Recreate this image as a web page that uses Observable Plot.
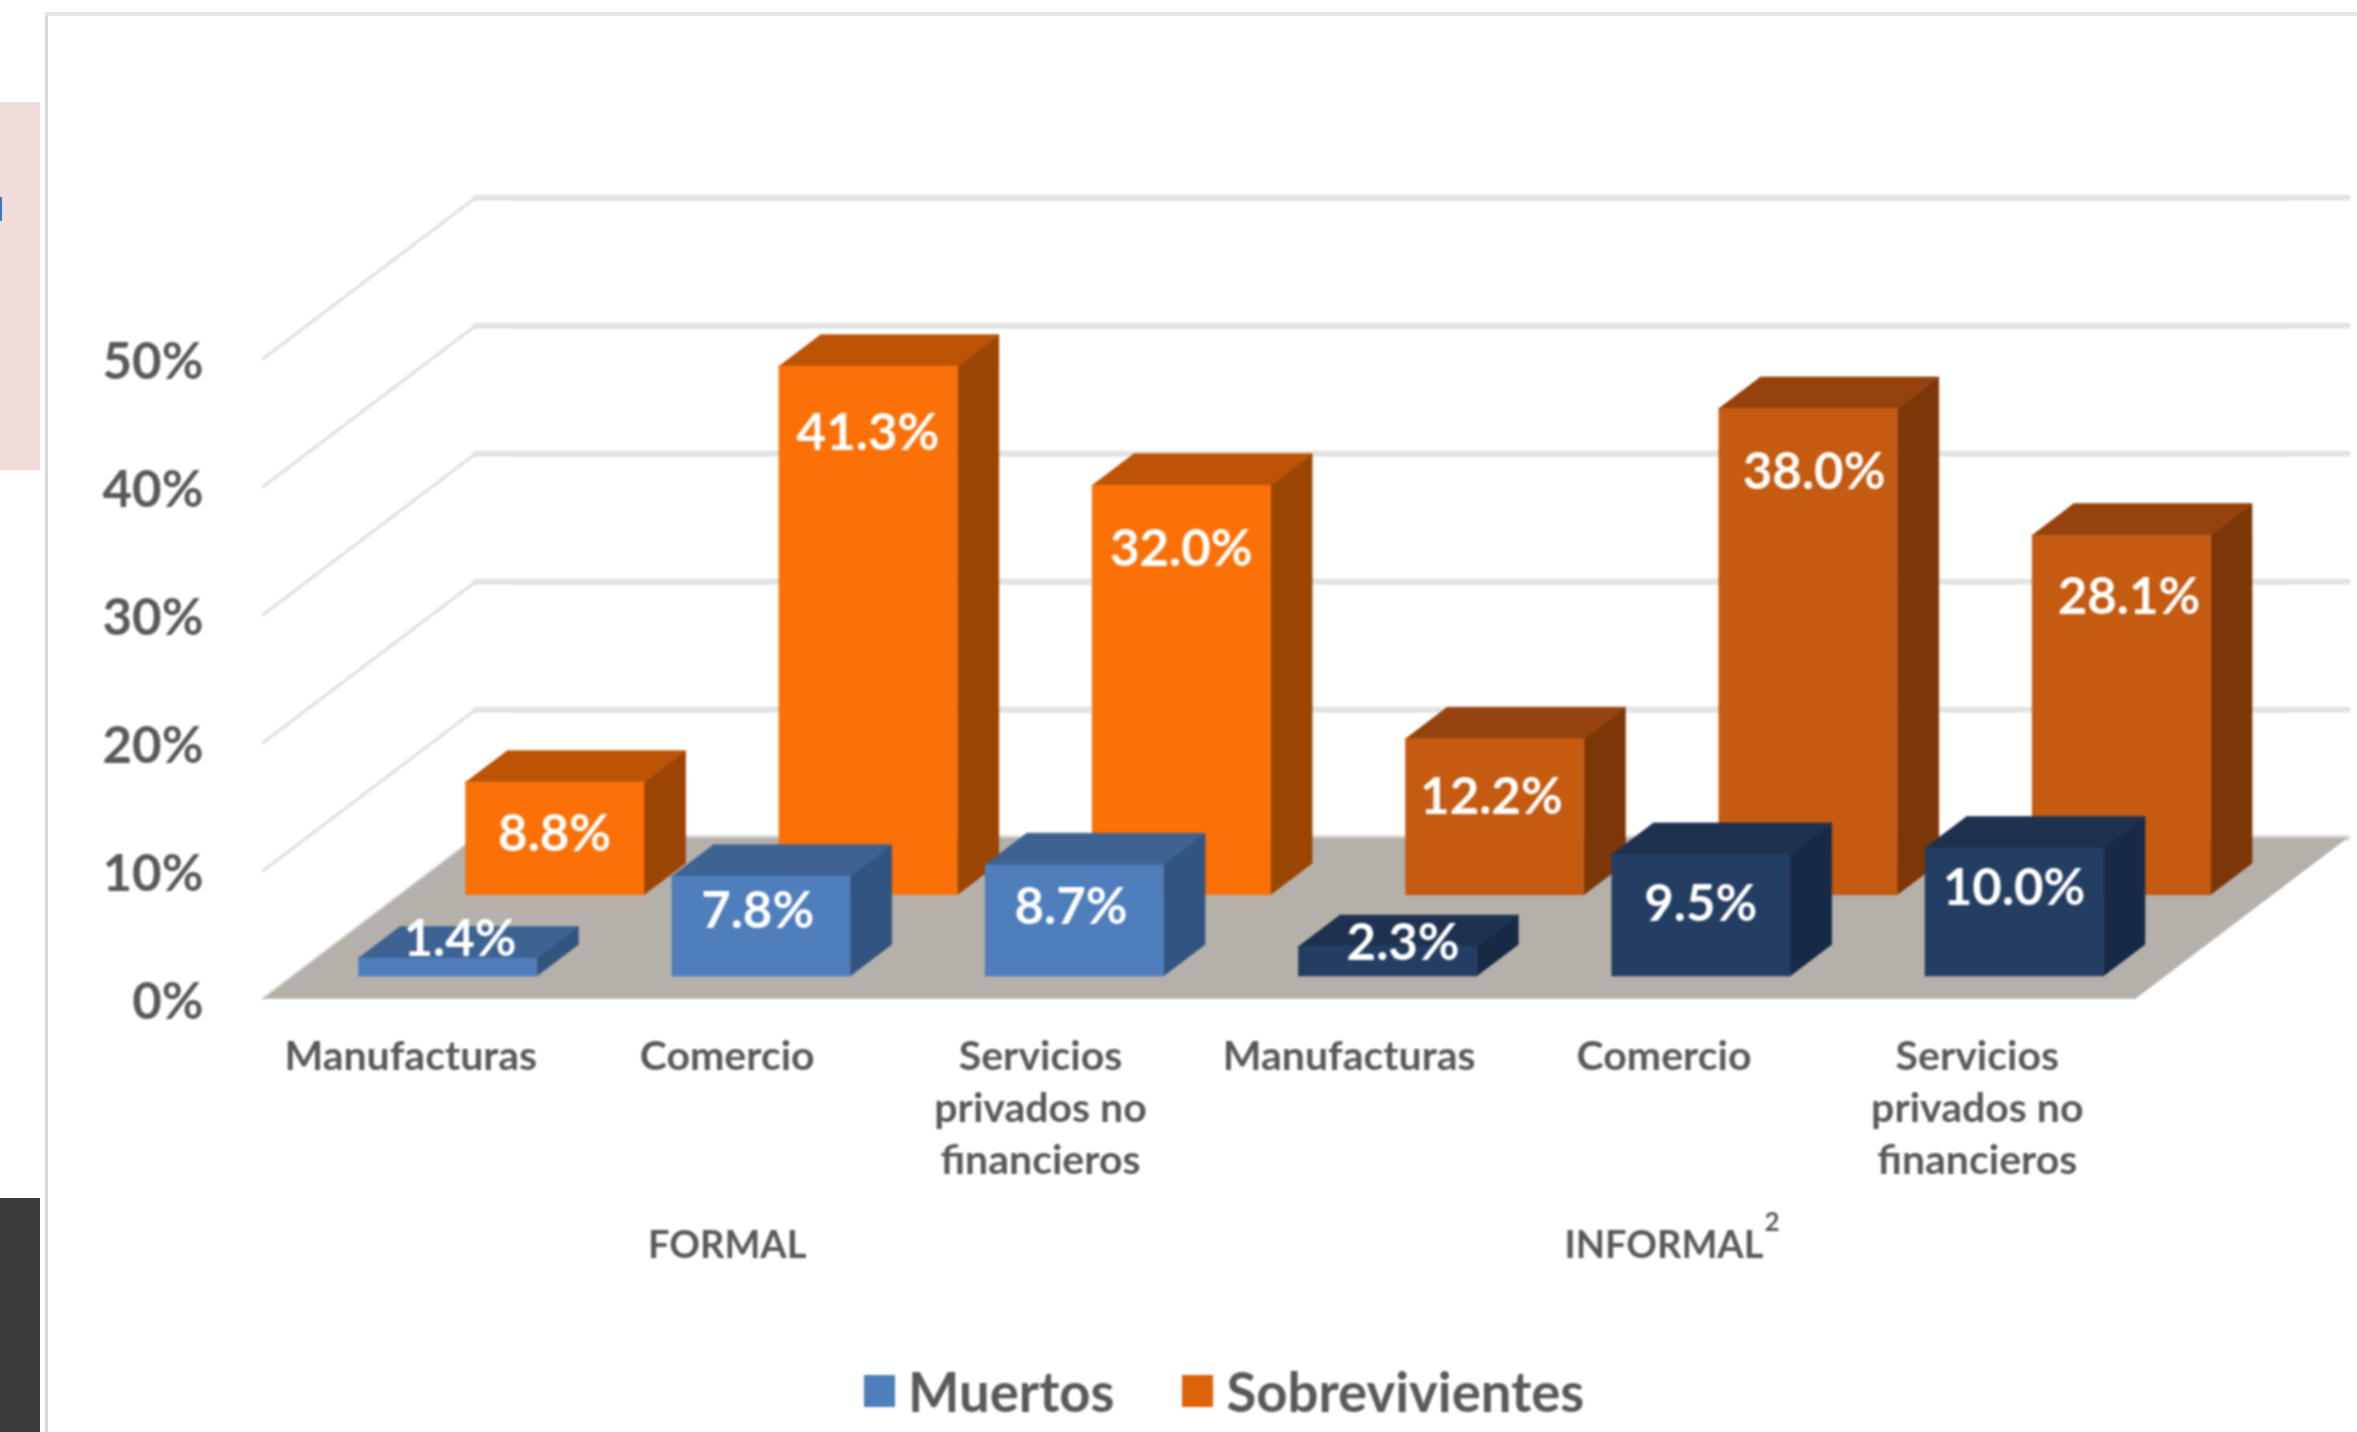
<!DOCTYPE html>
<html><head><meta charset="utf-8">
<script src="https://cdn.jsdelivr.net/npm/d3@7"></script>
<script src="https://cdn.jsdelivr.net/npm/@observablehq/plot@0.6"></script>
<style>
html,body{margin:0;padding:0;background:#fff;width:2357px;height:1432px;overflow:hidden;font-family:Lato,sans-serif}
#page{position:relative;width:2357px;height:1432px}
.deco{position:absolute}
#chart{position:absolute;left:0;top:0;filter:blur(.8px)}
#chart svg{display:block;background:transparent}
#legend{position:absolute;left:0;top:1350px;width:2357px;height:82px;display:flex;align-items:center;filter:blur(.8px);
 font-size:54.5px;font-weight:700;color:#595959;box-sizing:border-box;padding-left:864px}
#legend i{display:inline-block;width:31px;height:32px;margin-right:13px}
#legend span{margin-right:68px}
</style></head><body>
<div id="page">
<div class="deco" style="left:0;top:102px;width:40px;height:368px;background:#f1dcdc"></div>
<div class="deco" style="left:0;top:197px;width:2px;height:24px;background:#3a78c0"></div>
<div class="deco" style="left:0;top:1198px;width:40px;height:234px;background:#3b3b3b"></div>
<div class="deco" style="left:45px;top:12px;width:3px;height:1420px;background:#d9d9d9"></div>
<div class="deco" style="left:45px;top:12px;width:2312px;height:4px;background:#e6e6e6"></div>
<div id="chart"></div>
<div id="legend"><i style="background:#4e7ebc"></i><span id="l1"></span><i style="background:#dd6208"></i><span id="l2"></span></div>
</div>
<script>
// ---- data ----
const categories = ["Manufacturas", "Comercio", "Servicios\nprivados no\nfinancieros",
                    "Manufacturas", "Comercio", "Servicios\nprivados no\nfinancieros"];
const groups = ["FORMAL", "INFORMAL"];
const seriesNames = ["Muertos", "Sobrevivientes"];
const muertos = [1.4, 7.8, 8.7, 2.3, 9.5, 10.0];
const sobrevivientes = [8.8, 41.3, 32.0, 12.2, 38.0, 28.1];
const yTicks = [0, 10, 20, 30, 40, 50];

// ---- oblique projection of the 3-D chart, in data units ----
const skewX = 0.677, skewY = 12.56;         // shift of the back of the floor
const barW = 0.57, barD = 0.196;
const seriesDepth = [0.14, 0.645];
const floorL = -0.208, floorR = 5.767;
const px = (c, d) => c + skewX * d;
const py = (v, d) => v + skewY * d;
const palette = {
  formal:   [{f:"#4e7ebc", t:"#3d6393", s:"#325480"}, {f:"#fb7007", t:"#bd5304", s:"#9b4502"}],
  informal: [{f:"#243e63", t:"#1e3250", s:"#162a46"}, {f:"#c55a11", t:"#96420c", s:"#7c3708"}]
};

const faces = [];
function poly(id, color, pts) { for (const [c, v, d] of pts) faces.push({id, color, x: px(c, d), y: py(v, d)}); }

poly("floor", "#b5b1aa", [[floorL,0,0],[floorR,0,0],[floorR,0,1],[floorL,0,1]]);
[1, 0].forEach(s => {
  const vals = s ? sobrevivientes : muertos, d0 = seriesDepth[s], d1 = d0 + barD;
  vals.forEach((v, i) => {
    const col = palette[i < 3 ? "formal" : "informal"][s], a = i, b = i + barW, id = `${s}-${i}`;
    poly(id+"s", col.s, [[b,0,d0],[b,0,d1],[b,v,d1],[b,v,d0]]);
    poly(id+"t", col.t, [[a,v,d0],[b,v,d0],[b,v,d1],[a,v,d1]]);
    poly(id+"f", col.f, [[a,0,d0],[b,0,d0],[b,v,d0],[a,v,d0]]);
  });
});

// wall gridlines
const sideLines = yTicks.flatMap(v => [{v, x: px(floorL,0), y: py(v,0)}, {v, x: px(floorL,1), y: py(v,1)}]);
const backLines = yTicks.flatMap(v => [{v, x: px(floorL,1), y: py(v,1)}, {v, x: px(floorR,1), y: py(v,1)}]);

// label placement (value units below the bar top / beside the bar centre)
const rearDrop = [4.1, 5.3, 5.0, 4.6, 5.0, 4.9];
const rearShift = [0, 0, 0, -0.01, 0.02, 0.025];
const frontLift = [2.8, 5.0, 5.3, 2.5, 5.6, 6.8];
const frontShift = [0.04, -0.01, -0.01, 0.05, 0, 0];
const catShift = [0, 0.01, 0.01, -0.005, 0, 0];
const fmt = v => v.toFixed(1) + "%";
const valueLabels = [
  ...sobrevivientes.map((v, i) => ({t: fmt(v), x: px(i + barW/2 + rearShift[i], seriesDepth[1]), y: py(v - rearDrop[i], seriesDepth[1])})),
  ...muertos.map((v, i) => ({t: fmt(v), x: px(i + barW/2 + frontShift[i], seriesDepth[0]), y: py(frontLift[i], seriesDepth[0])}))
];
const catLabels = categories.map((t, i) => ({t, x: i + 0.2625 + catShift[i]}));
const groupLabels = groups.map((t, g) => ({t, x: 3 * g + 1.2625 + (g ? 0 : 0.01)}));
const catTop = -2.7, groupY = -19.3;

const chart = Plot.plot({
  width: 2357, height: 1350,
  marginLeft: 203, marginTop: 0, marginRight: 0, marginBottom: 0,
  style: {fontFamily: "Lato, sans-serif", background: "transparent", overflow: "visible"},
  x: {domain: [-1.047, 6.476], range: [0, 2357], axis: null},
  y: {domain: [-27.5, 77.97], range: [1350, 0]},
  color: {type: "identity"},
  marks: [
    Plot.line(sideLines, {x: "x", y: "y", z: "v", stroke: "#dfdfdf", strokeWidth: 3}),
    Plot.line(backLines, {x: "x", y: "y", z: "v", stroke: "#e3e3e3", strokeWidth: 6}),
    Plot.line(faces, {x: "x", y: "y", z: "id", fill: "color", stroke: "color", strokeWidth: 0.6}),
    Plot.axisY({ticks: yTicks, tickFormat: d => d + "%", tickSize: 0, tickPadding: 0, label: null,
                fontSize: 51, fontWeight: 700, fill: "#595959", dy: 4}),
    Plot.text(valueLabels, {x: "x", y: "y", text: "t", fill: "#fff", fontSize: 51, fontWeight: 700}),
    Plot.text(catLabels, {x: "x", y: () => catTop, text: "t", fill: "#595959", fontSize: 41, fontWeight: 700,
                          lineAnchor: "top", lineHeight: 1.27}),
    Plot.text(groupLabels, {x: "x", y: () => groupY, text: "t", fill: "#595959", fontSize: 38, fontWeight: 700}),
    Plot.text(["2"], {x: () => groupLabels[1].x + 0.345, y: () => groupY + 1.8, text: d => d, fill: "#595959", fontSize: 26, fontWeight: 700})
  ]
});
document.getElementById("chart").appendChild(chart);
document.getElementById("l1").textContent = seriesNames[0];
document.getElementById("l2").textContent = seriesNames[1];
</script>
</body></html>
